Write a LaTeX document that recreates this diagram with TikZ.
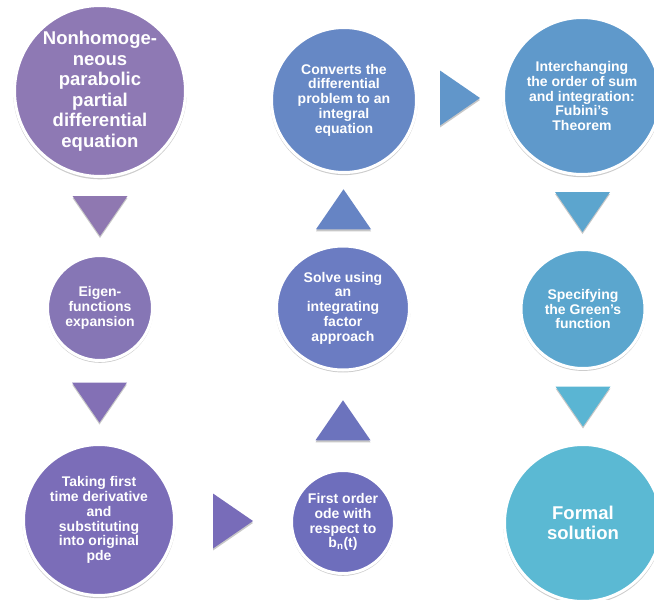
\documentclass[tikz,border=0pt]{standalone}
\usepackage{fontspec}
\setmainfont{Liberation Sans}
\usetikzlibrary{shapes.geometric,shadows,calc}

% step colours, purple through blue to cyan
\definecolor{cA}{HTML}{8E79B4}
\definecolor{t1}{HTML}{8F78B1}
\definecolor{cB}{HTML}{8676B5}
\definecolor{t2}{HTML}{8370B5}
\definecolor{cC}{HTML}{7B6DB8}
\definecolor{t3}{HTML}{786CB9}
\definecolor{cD}{HTML}{6E6EBC}
\definecolor{t4}{HTML}{6C73BD}
\definecolor{cE}{HTML}{6B7CC2}
\definecolor{t5}{HTML}{6684C4}
\definecolor{cF}{HTML}{6688C5}
\definecolor{t6}{HTML}{6196CA}
\definecolor{cG}{HTML}{5F99CB}
\definecolor{t7}{HTML}{5CA5CE}
\definecolor{cH}{HTML}{5BA6CE}
\definecolor{t8}{HTML}{5AB5D3}
\definecolor{cI}{HTML}{5BB9D3}

\tikzset{
  softshadow/.style={drop shadow={shadow xshift=0pt, shadow yshift=-2pt, opacity=0.22, fill=black}},
  rimshadow/.style={drop shadow={shadow xshift=0pt, shadow yshift=-1.5pt, shadow scale=1.015, opacity=0.2, fill=black}},
  stepcircle/.style={circle, draw=white, line width=3pt, fill=#1, text=white,
    font=\bfseries\fontsize{14}{14.8}\selectfont, align=center, inner sep=0pt, rimshadow},
  stepoval/.style={ellipse, draw=white, line width=3pt, fill=#1, text=white,
    font=\bfseries\fontsize{14}{14.8}\selectfont, align=center, inner sep=0pt, rimshadow},
  bigtext/.style={font=\bfseries\fontsize{18.5}{20.5}\selectfont},
  pics/arrowdown/.style={code={\fill[#1, softshadow] (-27.5,-20) -- (27.5,-20) -- (0,20) -- cycle;}},
  pics/arrowup/.style={code={\fill[#1, softshadow] (-27.5,20) -- (27.5,20) -- (0,-20) -- cycle;}},
  pics/arrowright/.style={code={\fill[#1, softshadow] (-20,-27.5) -- (-20,27.5) -- (20,0) -- cycle;}},
}

\begin{document}
\begin{tikzpicture}[x=1pt, y=-1pt]
\useasboundingbox (0,0) rectangle (654,600);

% left column
\node[stepcircle=cA, bigtext, minimum size=171pt] (A) at (100,91)
  {Nonhomoge-\\neous\\parabolic\\partial\\differential\\equation};
\node[stepcircle=cB, minimum size=105pt] (B) at (100,308)
  {Eigen-\\functions\\expansion};
\node[stepcircle=cC, minimum size=151pt] (C) at (99,520)
  {Taking first\\time derivative\\and\\substituting\\into original\\pde};

% middle column
\node[stepcircle=cD, minimum size=103pt] (D) at (343,522)
  {First order\\ode with\\respect to\\b\textsubscript{n}(t)};
\node[stepoval=cE, minimum width=133pt, minimum height=124pt] (E) at (343,308)
  {Solve using\\an\\integrating\\factor\\approach};
\node[stepcircle=cF, minimum size=145pt] (F) at (344,100)
  {Converts the\\differential\\problem to an\\integral\\equation};

% right column
\node[stepcircle=cG, minimum size=157pt] (G) at (582,96)
  {Interchanging\\the order of sum\\and integration:\\Fubini’s\\Theorem};
\node[stepoval=cH, minimum width=124pt, minimum height=119pt] (H) at (583,309)
  {Specifying\\the Green’s\\function};
\node[stepcircle=cI, bigtext, minimum size=157pt] (I) at (583,523)
  {Formal\\solution};

% triangular arrows between the steps
\pic at ($(A.south)!0.5!(B.north)$) {arrowdown=t1};
\pic at ($(B.south)!0.5!(C.north)$) {arrowdown=t2};
\pic at ($(C.east)!0.5!(D.west)$) {arrowright=t3};
\pic at ($(D.north)!0.5!(E.south)$) {arrowup=t4};
\pic at ($(E.north)!0.5!(F.south)$) {arrowup=t5};
\pic at ($(F.east)!0.5!(G.west)$) {arrowright=t6};
\pic at ($(G.south)!0.5!(H.north)$) {arrowdown=t7};
\pic at ($(H.south)!0.5!(I.north)$) {arrowdown=t8};
\end{tikzpicture}
\end{document}
